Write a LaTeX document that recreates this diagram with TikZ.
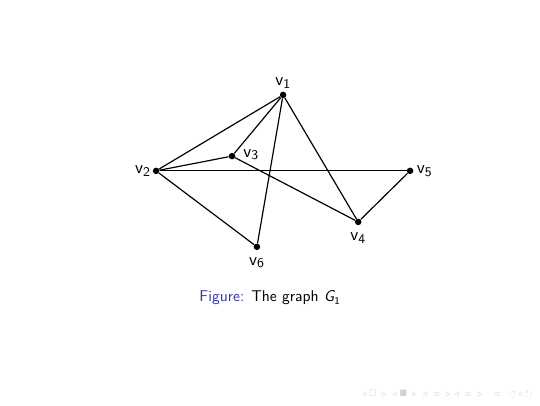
\documentclass[tikz,border=0pt]{standalone}
\usepackage{amssymb}
\usetikzlibrary{positioning}
\definecolor{structblue}{rgb}{0.2,0.2,0.7}
\tikzset{
    vert/.style={circle, fill=black, inner sep=0pt, minimum size=4.4pt},
    vlabel/.style={font=\sffamily\fontsize{12.5}{14}\selectfont},
    edge/.style={thick}
}
\newcommand{\vname}[1]{$\mathsf{v}_{\mathsf{#1}}$}

\begin{document}
\begin{tikzpicture}
            \useasboundingbox[fill=white] (0,0) rectangle (12.8,-9.6);
            %
            \node[vert, label={[vlabel, inner sep=2pt]above:\vname{1}}] (v1) at (6.71,-2.25) {};
            \node[vert, label={[vlabel, inner sep=1pt]left:\vname{2}}] (v2) at (3.70,-4.05) {};
            \node[vert, label={[vlabel, inner sep=5pt, yshift=1pt]right:\vname{3}}] (v3) at (5.50,-3.70) {};
            \node[vert, label={[vlabel, inner sep=4.5pt]below:\vname{4}}] (v4) at (8.49,-5.26) {};
            \node[vert, label={[vlabel, inner sep=2pt]right:\vname{5}}] (v5) at (9.72,-4.05) {};
            \node[vert, label={[vlabel, inner sep=4.5pt]below:\vname{6}}] (v6) at (6.09,-5.85) {};
            %
            \draw[edge] (v1) -- (v2);
            \draw[edge] (v1) -- (v3);
            \draw[edge] (v1) -- (v6);
            \draw[edge] (v1) -- (v4);
            \draw[edge] (v2) -- (v3);
            \draw[edge] (v2) -- (v5);
            \draw[edge] (v2) -- (v6);
            \draw[edge] (v3) -- (v4);
            \draw[edge] (v4) -- (v5);
            %
            \node[font=\sffamily\fontsize{10.5}{12}\selectfont] (caption) at (6.40,-7.06)
                {\textcolor{structblue}{Figure:} The graph {\itshape G}$_{\mathsf{1}}$};
            %
            \node[text=gray!35, font=\fontsize{5}{6}\selectfont, anchor=east] (nav) at (12.75,-9.35)
                {$\triangleleft\,\square\,\triangleright\;\triangleleft\,\blacksquare\,\triangleright\;\triangleleft\,\equiv\,\triangleright\;\triangleleft\,\equiv\,\triangleright\quad\equiv\quad\circlearrowleft\!\circ\!\circlearrowright$};
        \end{tikzpicture}
\end{document}
